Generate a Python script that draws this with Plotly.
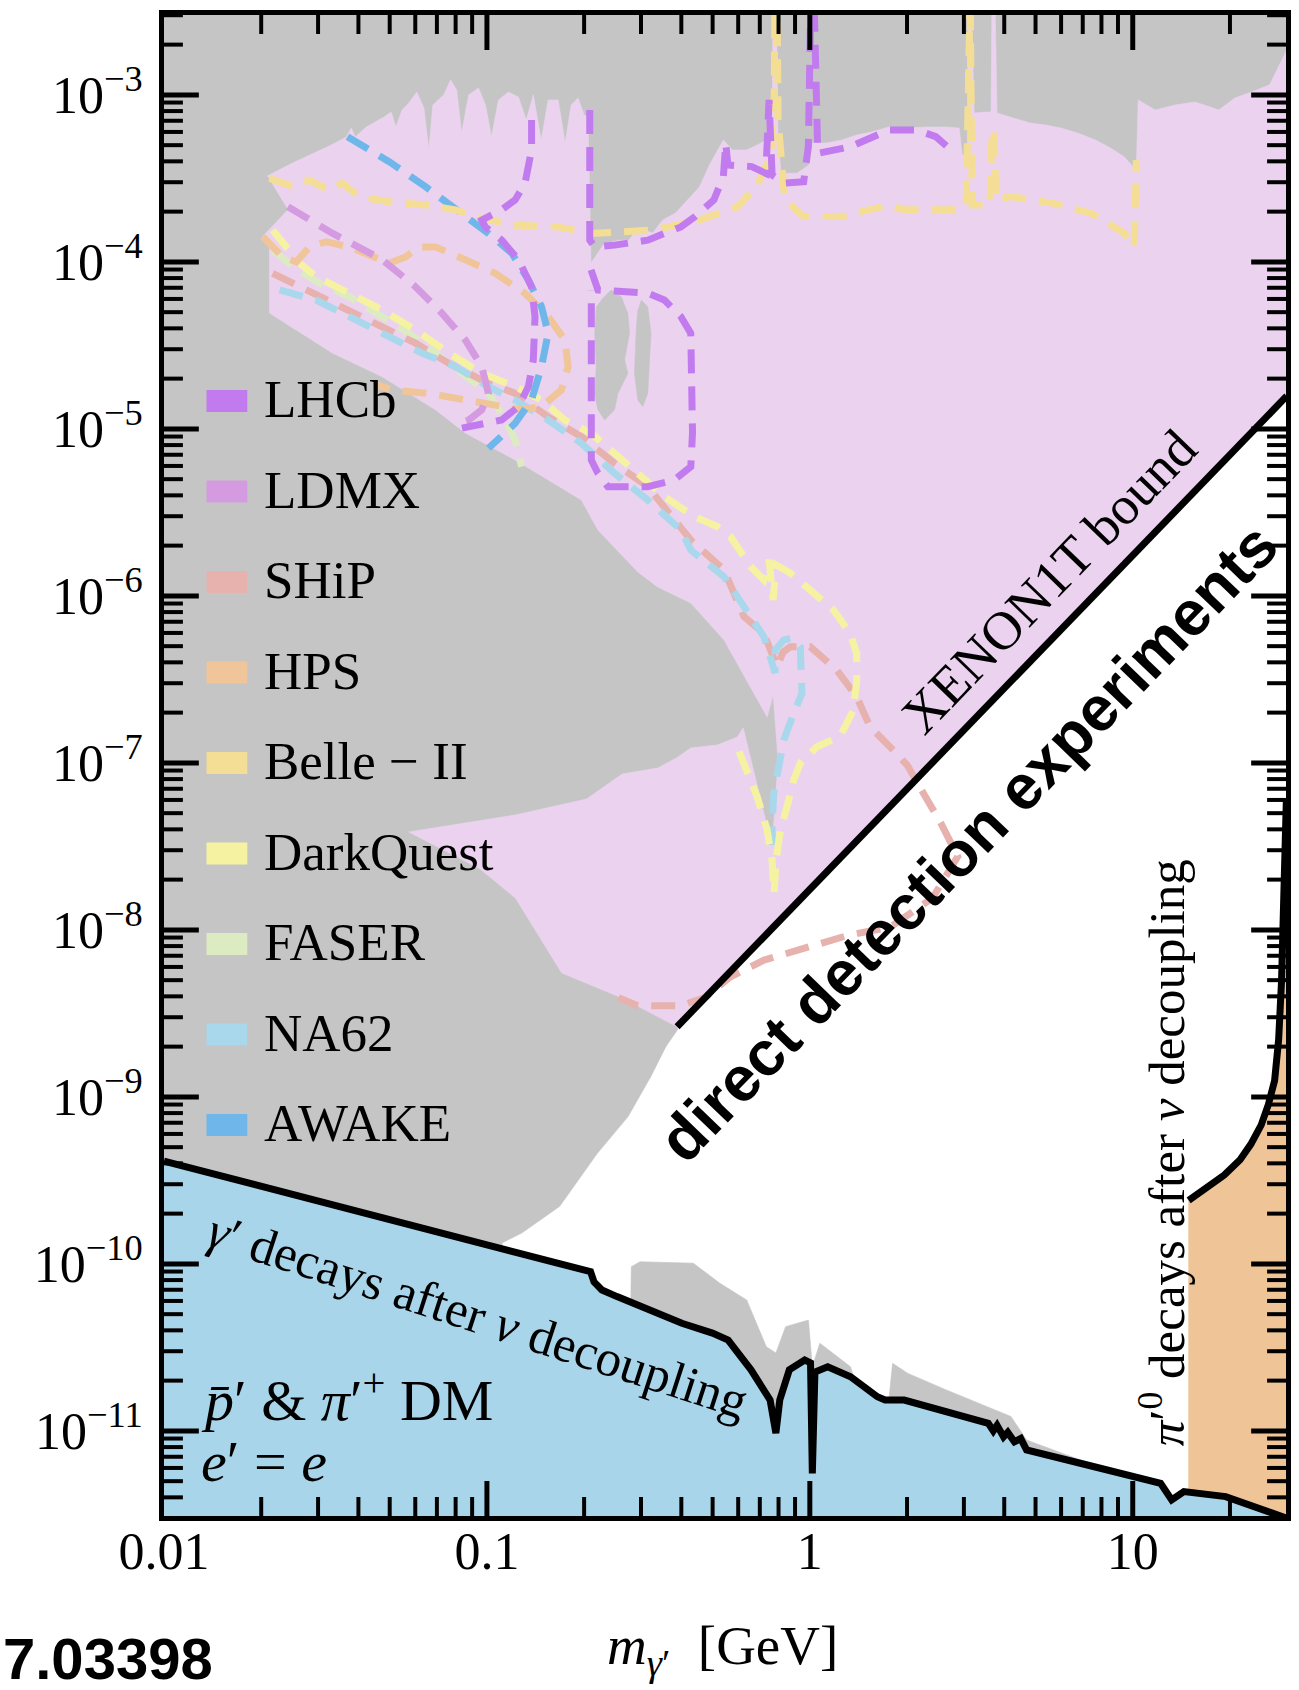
import math
import plotly.graph_objects as go

# ---------------------------------------------------------------
# Dark photon parameter space: m_gamma' [GeV] vs kinetic mixing
# All region / curve data are (mass [GeV], epsilon) pairs.
# ---------------------------------------------------------------

FLOOR = 1e-13  # closes filled regions below the visible range

# upper boundary of the allowed (pink) window, left to right
PINK_TOP = [
    (0.0209, 3.27e-4), (0.0250, 3.91e-4), (0.0325, 4.94e-4), (0.0367, 5.60e-4),
    (0.0380, 6.33e-4), (0.0391, 5.60e-4), (0.0423, 6.42e-4), (0.0480, 7.37e-4),
    (0.0505, 7.90e-4), (0.0523, 6.42e-4), (0.0546, 8.12e-4), (0.0573, 8.94e-4),
    (0.0607, 1.04e-3), (0.0638, 8.35e-4), (0.0661, 4.68e-4), (0.0680, 8.70e-4),
    (0.0735, 9.99e-4), (0.0772, 1.23e-3), (0.0806, 1.07e-3), (0.0835, 5.91e-4),
    (0.0878, 1.00e-3), (0.0942, 1.10e-3), (0.0990, 8.70e-4), (0.1033, 5.60e-4),
    (0.1086, 9.32e-4), (0.1166, 1.04e-3), (0.1252, 9.71e-4), (0.1324, 7.07e-4),
    (0.1392, 1.00e-3), (0.1473, 5.37e-4), (0.1548, 9.32e-4), (0.1662, 9.32e-4),
    (0.1747, 5.15e-4), (0.1823, 8.70e-4), (0.1916, 9.58e-4), (0.2000, 7.58e-4),
    (0.2057, 7.37e-4), (0.2101, 9.85e-5), (0.2288, 1.26e-4), (0.2544, 1.35e-4),
    (0.2751, 1.35e-4), (0.2933, 1.60e-4), (0.3262, 1.49e-4), (0.3502, 1.78e-4),
    (0.3839, 1.96e-4), (0.4181, 2.35e-4), (0.4552, 2.81e-4), (0.4887, 3.80e-4),
    (0.5398, 5.37e-4), (0.5754, 4.68e-4), (0.6355, 4.68e-4), (0.6871, 5.01e-4),
    (0.7321, 5.37e-4), (0.7641, 5.37e-4), (0.7697, 4.0e-3), (0.7864, 4.0e-3),
    (0.7975, 5.37e-4), (0.8147, 3.40e-4), (0.9125, 3.40e-4), (0.9937, 3.80e-4),
    (1.022, 5.15e-4), (1.129, 5.15e-4), (1.256, 5.37e-4), (1.397, 5.75e-4),
    (1.554, 5.99e-4), (1.753, 6.42e-4), (1.992, 6.33e-4), (2.296, 6.42e-4),
    (2.646, 6.42e-4), (2.901, 6.33e-4), (2.963, 4.37e-4), (3.071, 4.37e-4),
    (3.093, 4.0e-3), (3.159, 4.0e-3), (3.227, 7.79e-4), (3.513, 7.90e-4),
    (3.640, 7.90e-4), (3.666, 4.0e-3), (3.745, 4.0e-3), (3.799, 7.79e-4),
    (4.196, 7.37e-4), (4.801, 6.79e-4), (5.379, 6.60e-4), (5.984, 6.33e-4),
    (6.751, 5.91e-4), (7.667, 5.37e-4), (8.531, 4.81e-4), (9.422, 4.25e-4),
    (10.04, 3.70e-4), (10.26, 3.70e-4), (10.40, 9.32e-4), (11.74, 8.12e-4),
    (13.53, 8.70e-4), (15.59, 9.07e-4), (18.49, 8.12e-4), (20.71, 9.58e-4),
    (24.21, 1.07e-3), (26.55, 1.15e-3), (30.0, 1.86e-3),
]

# XENON1T bound (straight line in log-log)
XENON = [(0.388, 2.63e-9), (30.0, 1.575e-5)]

# lower boundary of the pink window below the gray tongue
PINK_LOWER = [
    (0.2623, 3.91e-9), (0.1705, 5.52e-9), (0.1226, 1.55e-8), (0.0951, 2.32e-8),
    (0.0573, 3.86e-8),
]

# outline of the excluded tongue (lower edge, rho sliver, upper edge, left side)
GRAY_TONGUE = [
    (0.1226, 4.88e-8), (0.2036, 6.08e-8), (0.2623, 8.58e-8), (0.3379, 9.32e-8),
    (0.3894, 1.08e-7), (0.4279, 1.23e-7), (0.5172, 1.28e-7), (0.5962, 1.43e-7),
    (0.6221, 1.62e-7), (0.7641, 3.14e-8), (0.7975, 1.04e-7), (0.7697, 2.55e-7),
    (0.7377, 1.88e-7), (0.6551, 2.85e-7), (0.5425, 5.44e-7), (0.4279, 9.07e-7),
    (0.3379, 1.13e-6), (0.2933, 1.39e-6), (0.2207, 2.48e-6), (0.1961, 3.75e-6),
    (0.1223, 6.51e-6), (0.0857, 9.45e-6), (0.0693, 1.30e-5), (0.0474, 2.05e-5),
    (0.0333, 2.84e-5), (0.0212, 4.94e-5), (0.0212, 1.23e-4), (0.0202, 1.42e-4),
    (0.0242, 2.05e-4),
]

# two excluded islands inside the window
GRAY_ISLAND_1 = [
    (0.2260, 5.91e-5), (0.2426, 6.79e-5), (0.2605, 6.19e-5), (0.2732, 4.92e-5),
    (0.2765, 3.74e-5), (0.2669, 2.59e-5), (0.2732, 2.15e-5), (0.2544, 1.63e-5),
    (0.2485, 1.30e-5), (0.2315, 1.13e-5), (0.2207, 1.30e-5), (0.2157, 1.63e-5),
    (0.2181, 2.36e-5), (0.2157, 3.74e-5), (0.2181, 5.39e-5),
]
GRAY_ISLAND_2 = [
    (0.3001, 5.91e-5), (0.3148, 5.39e-5), (0.3222, 3.74e-5), (0.3185, 2.36e-5),
    (0.3148, 1.63e-5), (0.3038, 1.36e-5), (0.2933, 1.49e-5), (0.2864, 2.15e-5),
    (0.2897, 3.74e-5), (0.2933, 5.15e-5),
]

# edge of the excluded region bordering the direct-detection window
WHITE_EDGE = [
    (0.391, 2.52e-9), (0.360, 2.00e-9), (0.323, 1.32e-9), (0.2746, 7.61e-10),
    (0.2208, 4.60e-10), (0.1684, 2.20e-10), (0.1284, 1.52e-10), (0.112, 1.33e-10),
]

# excluded band just above the decay line (0.28 - 7 GeV)
GRAY_LOW = [
    (0.2782, 4.02e-11), (0.2800, 9.62e-11), (0.2979, 1.03e-10), (0.4356, 1.01e-10),
    (0.5268, 7.65e-11), (0.6374, 6.08e-11), (0.7333, 3.19e-11), (0.7850, 2.93e-11),
    (0.8413, 4.21e-11), (0.9901, 4.61e-11), (1.018, 2.42e-11), (1.074, 3.35e-11),
    (1.337, 2.42e-11), (1.374, 2.02e-11), (1.619, 1.53e-11), (1.757, 1.53e-11),
    (1.804, 2.54e-11), (2.013, 2.21e-11), (2.646, 1.76e-11), (3.772, 1.33e-11),
    (4.196, 1.22e-11), (4.69, 8.82e-12), (6.88, 6.70e-12),
]

# gamma' decays after neutrino decoupling
DECAY = [
    (0.01, 4.13e-10), (0.2094, 8.98e-11), (0.2146, 7.80e-11), (0.2271, 6.98e-11),
    (0.2529, 6.37e-11), (0.3148, 5.30e-11), (0.4016, 4.41e-11), (0.4993, 3.85e-11),
    (0.5585, 3.50e-11), (0.6574, 2.32e-11), (0.7534, 1.53e-11), (0.785, 9.7e-12),
    (0.807, 1.53e-11), (0.864, 2.32e-11), (0.964, 2.66e-11), (1.005, 2.55e-11),
    (1.018, 5.57e-12), (1.037, 2.25e-11), (1.136, 2.42e-11), (1.337, 2.11e-11),
    (1.619, 1.60e-11), (1.71, 1.53e-11), (1.96, 1.53e-11), (3.57, 1.11e-11),
    (3.70, 1.00e-11), (3.80, 1.08e-11), (3.98, 9.22e-12), (4.10, 9.8e-12),
    (4.30, 8.6e-12), (4.50, 9.0e-12), (4.69, 7.69e-12), (6.88, 6.40e-12),
    (9.80, 5.32e-12), (12.2, 4.85e-12), (13.2, 3.86e-12), (14.4, 4.33e-12),
    (19.4, 4.04e-12), (25.5, 3.36e-12), (30.0, 3.0e-12),
]

# pi'0 decays after neutrino decoupling
PI0 = [
    (14.9, 2.40e-10), (17.0, 2.85e-10), (19.2, 3.40e-10), (21.5, 4.20e-10),
    (23.2, 5.20e-10), (25.0, 6.80e-10), (26.3, 9.00e-10), (27.5, 1.25e-9),
    (28.3, 2.20e-9), (28.9, 5.0e-9), (29.4, 1.6e-8), (29.9, 6.0e-8),
]

# ---- projected sensitivities (dashed) ----
LHCB_LOOP = [
    (0.1375, 7.07e-4), (0.1375, 4.68e-4), (0.1312, 2.96e-4), (0.1223, 2.35e-4),
    (0.1111, 2.05e-4), (0.0964, 1.78e-4), (0.0988, 1.62e-4), (0.1111, 1.35e-4),
    (0.1252, 1.03e-4), (0.1375, 7.10e-5), (0.1409, 4.70e-5), (0.1392, 2.59e-5),
    (0.1344, 1.79e-5), (0.1252, 1.36e-5), (0.1111, 1.13e-5), (0.0964, 1.06e-5),
    (0.0837, 1.01e-5),
]
LHCB_UPPER = [
    (0.2082, 8.12e-4), (0.2082, 1.35e-4), (0.2157, 1.23e-4), (0.2485, 1.26e-4),
    (0.3148, 1.35e-4), (0.3988, 1.62e-4), (0.4413, 1.87e-4), (0.5045, 2.35e-4),
    (0.5398, 3.24e-4), (0.5491, 5.13e-4), (0.5574, 3.80e-4), (0.6607, 3.72e-4),
    (0.7306, 3.39e-4), (0.7478, 9.32e-4), (0.7641, 3.31e-4), (0.8364, 2.96e-4),
    (0.957, 3.02e-4), (0.9895, 4.90e-4), (1.008, 4.0e-3), (1.030, 4.0e-3),
    (1.058, 4.47e-4), (1.339, 4.90e-4), (1.753, 6.16e-4), (2.146, 6.16e-4),
    (2.455, 5.62e-4), (2.810, 4.47e-4),
]
LHCB_BOX = [
    (0.2101, 8.95e-5), (0.2207, 6.79e-5), (0.2485, 6.70e-5), (0.3148, 6.49e-5),
    (0.3544, 5.91e-5), (0.3988, 4.70e-5), (0.4279, 3.74e-5), (0.4332, 9.45e-6),
    (0.4279, 5.94e-6), (0.3804, 4.94e-6), (0.3148, 4.51e-6), (0.2369, 4.51e-6),
    (0.2207, 5.42e-6), (0.2105, 6.51e-6), (0.2105, 6.79e-5),
]
LDMX = [
    (0.0242, 2.14e-4), (0.0333, 1.48e-4), (0.0474, 1.03e-4), (0.0601, 7.10e-5),
    (0.0726, 4.92e-5), (0.0857, 3.41e-5), (0.0964, 2.36e-5), (0.1011, 1.63e-5),
    (0.0964, 1.30e-5), (0.0878, 1.13e-5), (0.0799, 1.06e-5),
]
SHIP = [
    (0.0217, 8.54e-5), (0.0251, 7.44e-5), (0.0333, 5.65e-5), (0.0474, 4.09e-5),
    (0.0601, 3.26e-5), (0.0762, 2.47e-5), (0.0964, 1.96e-5), (0.1223, 1.63e-5),
    (0.1548, 1.18e-5), (0.1961, 8.98e-6), (0.2485, 6.22e-6), (0.3148, 4.51e-6),
    (0.4279, 2.16e-6), (0.5425, 1.43e-6), (0.5825, 1.04e-6), (0.6252, 7.51e-7),
    (0.7204, 5.97e-7), (0.7916, 3.77e-7), (0.8262, 4.61e-7), (0.8700, 4.96e-7),
    (1.003, 4.96e-7), (1.212, 3.60e-7), (1.397, 2.49e-7), (1.535, 1.65e-7),
    (1.769, 1.25e-7), (2.002, 9.70e-8), (2.257, 6.50e-8), (2.546, 4.35e-8),
    (2.871, 2.75e-8), (2.398, 1.55e-8), (1.775, 1.04e-8), (1.315, 9.28e-9),
    (0.9741, 7.82e-9), (0.7214, 6.59e-9), (0.5678, 5.24e-9), (0.4741, 3.94e-9),
    (0.3960, 3.51e-9), (0.2933, 3.51e-9), (0.2557, 3.92e-9),
]
HPS = [
    (0.0202, 1.42e-4), (0.0233, 1.07e-4), (0.0257, 1.00e-4), (0.0282, 1.23e-4),
    (0.0318, 1.32e-4), (0.0375, 1.23e-4), (0.0498, 9.81e-5), (0.0560, 1.07e-4),
    (0.0616, 1.23e-4), (0.0693, 1.23e-4), (0.0857, 1.03e-4), (0.1061, 8.54e-5),
    (0.1312, 6.49e-5), (0.1548, 4.70e-5), (0.1743, 3.41e-5), (0.1784, 2.36e-5),
    (0.1701, 1.71e-5), (0.1476, 1.36e-5), (0.1281, 1.30e-5), (0.0964, 1.42e-5),
    (0.0661, 1.63e-5), (0.0509, 1.71e-5), (0.0457, 1.83e-5),
]
BELLE2 = [
    (0.0212, 3.17e-4), (0.0251, 2.82e-4), (0.0282, 3.09e-4), (0.0325, 2.69e-4),
    (0.0357, 2.96e-4), (0.0402, 2.46e-4), (0.0498, 2.29e-4), (0.0645, 2.19e-4),
    (0.0799, 2.05e-4), (0.0964, 1.82e-4), (0.1223, 1.66e-4), (0.1662, 1.62e-4),
    (0.2104, 1.48e-4), (0.3262, 1.55e-4), (0.4562, 1.78e-4), (0.5975, 2.14e-4),
    (0.6832, 2.82e-4), (0.7561, 4.27e-4), (0.7751, 9.32e-4), (0.7806, 4.0e-3),
    (0.7918, 4.0e-3), (0.7975, 7.07e-4), (0.8364, 2.35e-4), (0.9570, 1.87e-4),
    (1.253, 1.87e-4), (1.753, 2.19e-4), (1.940, 2.05e-4), (2.905, 2.05e-4),
    (3.049, 2.19e-4), (3.093, 4.0e-3), (3.137, 4.0e-3), (3.182, 2.19e-4),
    (3.614, 2.19e-4), (3.666, 6.16e-4), (3.718, 6.16e-4), (3.773, 2.35e-4),
    (4.207, 2.46e-4), (5.69, 2.24e-4), (7.456, 1.95e-4), (9.44, 1.48e-4),
    (10.10, 1.23e-4), (10.26, 4.07e-4),
]
DARKQUEST = [
    (0.0217, 1.55e-4), (0.0239, 1.23e-4), (0.0263, 9.81e-5), (0.0296, 8.15e-5),
    (0.0375, 6.49e-5), (0.0474, 5.15e-5), (0.0601, 3.91e-5), (0.0762, 2.84e-5),
    (0.0964, 2.15e-5), (0.1223, 1.79e-5), (0.1476, 1.49e-5), (0.1743, 1.13e-5),
    (0.2105, 9.41e-6), (0.2485, 7.14e-6), (0.3001, 5.17e-6), (0.3544, 3.93e-6),
    (0.4385, 2.98e-6), (0.5172, 2.60e-6), (0.5684, 2.26e-6), (0.6551, 1.50e-6),
    (0.7204, 1.25e-6), (0.7479, 1.64e-6), (0.7697, 9.45e-7), (0.7864, 1.53e-6),
    (0.8700, 1.37e-6), (1.003, 1.08e-6), (1.184, 8.23e-7), (1.332, 5.97e-7),
    (1.397, 4.53e-7), (1.397, 3.14e-7), (1.365, 2.07e-7), (1.241, 1.44e-7),
    (1.052, 1.25e-7), (0.9341, 9.95e-8), (0.8915, 7.90e-8), (0.8500, 5.47e-8),
    (0.8104, 3.96e-8), (0.7864, 2.62e-8), (0.7751, 1.66e-8), (0.7641, 2.62e-8),
    (0.7377, 3.96e-8), (0.6871, 6.27e-8), (0.6400, 9.07e-8), (0.5879, 1.33e-7),
]
FASER = [
    (0.0217, 1.18e-4), (0.0251, 9.36e-5), (0.0310, 7.27e-5), (0.0375, 6.19e-5),
    (0.0474, 4.70e-5), (0.0573, 3.74e-5), (0.0693, 2.84e-5), (0.0837, 2.15e-5),
    (0.1011, 1.63e-5), (0.1139, 1.13e-5), (0.1223, 8.58e-6), (0.1281, 5.94e-6),
]
NA62 = [
    (0.0228, 6.79e-5), (0.0296, 5.91e-5), (0.0375, 4.70e-5), (0.0498, 3.56e-5),
    (0.0630, 2.84e-5), (0.0799, 2.36e-5), (0.1011, 1.79e-5), (0.1223, 1.49e-5),
    (0.1548, 1.13e-5), (0.1961, 8.20e-6), (0.2485, 5.42e-6), (0.3148, 3.75e-6),
    (0.3988, 2.48e-6), (0.4279, 1.88e-6), (0.5425, 1.30e-6), (0.6252, 8.62e-7),
    (0.7204, 5.70e-7), (0.7806, 3.45e-7), (0.7806, 4.74e-7), (0.8305, 5.44e-7),
    (0.8807, 5.60e-7), (0.9341, 4.96e-7), (0.9455, 2.61e-7), (0.8915, 1.98e-7),
    (0.8305, 1.37e-7), (0.8015, 9.49e-8), (0.7734, 6.58e-8), (0.7641, 4.15e-8),
    (0.7641, 3.22e-8),
]
AWAKE = [
    (0.0370, 5.62e-4), (0.0498, 3.98e-4), (0.0645, 2.82e-4), (0.0837, 1.95e-4),
    (0.1011, 1.48e-4), (0.1193, 1.13e-4), (0.1344, 7.79e-5), (0.1476, 5.39e-5),
    (0.1548, 3.74e-5), (0.1476, 2.36e-5), (0.1375, 1.49e-5), (0.1223, 1.08e-5),
    (0.1061, 8.20e-6), (0.1011, 7.65e-6),
]

EXPERIMENTS = ["LHCb", "LDMX", "SHiP", "HPS", "Belle − II", "DarkQuest",
               "FASER", "NA62", "AWAKE"]
EXP_COLORS = ["#c27bef", "#d59be0", "#e7b1ae", "#f1c59a", "#f4de96",
              "#f5f3a2", "#dcebc2", "#a9d7eb", "#6fb7ea"]

X_TICKS = [0.01, 0.1, 1, 10]
X_TICKTEXT = ["0.01", "0.1", "1", "10"]
Y_TICKS = [1e-3, 1e-4, 1e-5, 1e-6, 1e-7, 1e-8, 1e-9, 1e-10, 1e-11]
Y_TICKTEXT = ["10<sup>−3</sup>", "10<sup>−4</sup>", "10<sup>−5</sup>",
              "10<sup>−6</sup>", "10<sup>−7</sup>", "10<sup>−8</sup>",
              "10<sup>−9</sup>", "10<sup>−10</sup>", "10<sup>−11</sup>"]

GRAY = "#c5c5c5"
PINK = "#ebd3f0"
BLUE = "#a9d5ea"
ORANGE = "#efc597"
SERIF = "Liberation Serif"
SANS = "Liberation Sans"

W, H = 1299, 1690
PLOT_L, PLOT_R, PLOT_T, PLOT_B = 164, 1291.4, 15, 1516
X_RANGE = [-2, 1.4746]
Y_RANGE = [-11.5096, -2.5216]


def unzip(pts):
    return [p[0] for p in pts], [p[1] for p in pts]


def paper(xpx, ypx):
    return ((xpx - PLOT_L) / (PLOT_R - PLOT_L),
            (PLOT_B - ypx) / (PLOT_B - PLOT_T))


fig = go.Figure()


def add_area(pts, color):
    x, y = unzip(pts)
    fig.add_trace(go.Scatter(x=x, y=y, mode="lines", fill="toself",
                             fillcolor=color, line=dict(width=0.6, color=color),
                             hoverinfo="skip", showlegend=False))


def add_curve(pts, color, width=7, dash="24px,13px"):
    x, y = unzip(pts)
    fig.add_trace(go.Scatter(x=x, y=y, mode="lines",
                             line=dict(color=color, width=width, dash=dash),
                             hoverinfo="skip", showlegend=False))


# filled regions, back to front
add_area(PINK_TOP + XENON[::-1] + PINK_LOWER + GRAY_TONGUE, PINK)
add_area(GRAY_ISLAND_1, GRAY)
add_area(GRAY_ISLAND_2, GRAY)
add_area(XENON + [(30.0, FLOOR), (WHITE_EDGE[-1][0], FLOOR)] + WHITE_EDGE[::-1],
         "white")
add_area(GRAY_LOW + [(GRAY_LOW[-1][0], FLOOR), (GRAY_LOW[0][0], FLOOR)], GRAY)
add_area([(PI0[0][0], FLOOR)] + PI0 + [(30.0, PI0[-1][1]), (30.0, FLOOR)], ORANGE)
add_area(DECAY + [(30.0, FLOOR), (0.01, FLOOR)], BLUE)

# projected sensitivities
col = dict(zip(EXPERIMENTS, EXP_COLORS))
add_curve(FASER, col["FASER"])
add_curve(SHIP, col["SHiP"])
add_curve(NA62, col["NA62"])
add_curve(DARKQUEST, col["DarkQuest"])
add_curve(HPS, col["HPS"])
add_curve(LDMX, col["LDMX"])
add_curve(AWAKE, col["AWAKE"])
add_curve(BELLE2, col["Belle − II"])
add_curve(LHCB_LOOP, col["LHCb"])
add_curve(LHCB_UPPER, col["LHCb"])
add_curve(LHCB_BOX, col["LHCb"])

# solid bounds
add_curve(XENON, "black", width=7, dash="solid")
add_curve(DECAY, "black", width=7, dash="solid")
add_curve(PI0, "black", width=7, dash="solid")

axis_common = dict(
    type="log", showline=True, linewidth=5, linecolor="black", mirror=True,
    ticks="", showgrid=False, zeroline=False, tickmode="array",
    tickfont=dict(family=SERIF, size=52, color="black"),
)
fig.update_xaxes(range=X_RANGE, tickvals=X_TICKS, ticktext=X_TICKTEXT,
                 ticklabelstandoff=-14, **axis_common)
fig.update_yaxes(range=Y_RANGE, tickvals=Y_TICKS, ticktext=Y_TICKTEXT,
                 ticklabelstandoff=6, **axis_common)

# ---- inward tick marks on all four sides, as thin filled bars ----
PW, PH = PLOT_R - PLOT_L, PLOT_B - PLOT_T
MAJOR_LEN, MINOR_LEN = 35, 19


def frac(v, rng):
    return (math.log10(v) - rng[0]) / (rng[1] - rng[0])


def bar(x0, x1, y0, y1):
    fig.add_shape(type="rect", xref="paper", yref="paper",
                  x0=x0, x1=x1, y0=y0, y1=y1, fillcolor="black",
                  line=dict(width=0), layer="above")


def add_ticks(xvals, yvals, length, width):
    hw_x = width / 2 / PW
    hw_y = width / 2 / PH
    lx = length / PW
    ly = length / PH
    for v in xvals:
        f = frac(v, X_RANGE)
        if 0 < f < 1:
            bar(f - hw_x, f + hw_x, 0, ly)
            bar(f - hw_x, f + hw_x, 1 - ly, 1)
    for v in yvals:
        f = frac(v, Y_RANGE)
        if 0 < f < 1:
            bar(0, lx, f - hw_y, f + hw_y)
            bar(1 - lx, 1, f - hw_y, f + hw_y)


minor_x = [k * 10.0 ** e for e in range(-2, 2) for k in range(2, 10)]
minor_y = [k * 10.0 ** e for e in range(-12, -2) for k in range(2, 10)]
add_ticks(minor_x, minor_y, MINOR_LEN, 4)
add_ticks(X_TICKS, Y_TICKS, MAJOR_LEN, 5)

# legend drawn as swatches + labels
for i, (name, c) in enumerate(zip(EXPERIMENTS, EXP_COLORS)):
    yc = 401 + 90.5 * i
    x0, y0 = paper(206.7, yc + 11)
    x1, y1 = paper(247.7, yc - 11)
    fig.add_shape(type="rect", xref="paper", yref="paper", x0=x0, x1=x1,
                  y0=y0, y1=y1, fillcolor=c, line=dict(width=0), layer="above")
    tx, ty = paper(262, yc - 2)
    fig.add_annotation(text=name, x=tx, y=ty, xref="paper", yref="paper",
                       xanchor="left", yanchor="middle", showarrow=False,
                       font=dict(family=SERIF, size=53, color="black"))


def label(text, xpx, ypx, size, angle=0, family=SERIF, xanchor="center"):
    x, y = paper(xpx, ypx)
    fig.add_annotation(text=text, x=x, y=y, xref="paper", yref="paper",
                       xanchor=xanchor, yanchor="middle", showarrow=False,
                       textangle=angle,
                       font=dict(family=family, size=size, color="black"))


label("XENON1T bound", 1053, 582, 54, angle=-46)
label("<b>direct detection experiments</b>", 972, 842, 63, angle=-46, family=SANS)
label("<i>γ</i>′ decays after <i>ν</i> decoupling", 480, 1316, 51, angle=18)
label("<i>p̄</i>′ &amp; <i>π</i>′<sup>+</sup> DM", 199, 1396, 58, xanchor="left")
label("<i>e</i>′ = <i>e</i>", 199, 1461, 58, xanchor="left")
label("<i>π</i>′<sup>0</sup> decays after <i>ν</i> decoupling", 1167, 1153, 51, angle=-90)
label("<i>m</i><sub><i>γ</i>′</sub>  [GeV]", 725, 1649, 55)
label("<b>7.03398</b>", 0, 1658, 58, family=SANS, xanchor="left")

fig.update_layout(
    width=W, height=H,
    margin=dict(l=PLOT_L, r=W - PLOT_R, t=PLOT_T, b=H - PLOT_B),
    paper_bgcolor="white", plot_bgcolor=GRAY,
    showlegend=False,
)

fig.write_html("out.html")
